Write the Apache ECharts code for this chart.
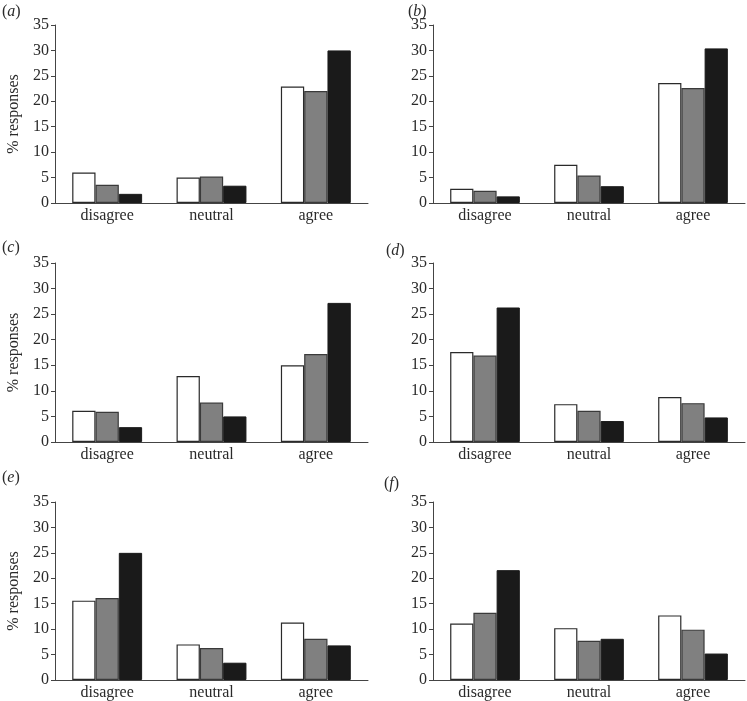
<!DOCTYPE html>
<html>
<head>
<meta charset="utf-8">
<script src="https://cdn.jsdelivr.net/npm/echarts@6/dist/echarts.min.js"></script>
<style>
html,body{margin:0;padding:0;background:#fff;}
#chart{width:747px;height:701px;}
</style>
</head>
<body>
<div id="chart"></div>
<script>
// ---- data ----
const categories = ['disagree', 'neutral', 'agree'];
const panelLetters = ['a', 'b', 'c', 'd', 'e', 'f'];
const yTicks = [0, 5, 10, 15, 20, 25, 30, 35];
const yTitle = '% responses';

const a_white = [6.0, 5.0, 22.9];
const a_gray  = [3.6, 5.2, 22.0];
const a_black = [1.8, 3.4, 30.0];

const b_white = [2.8, 7.5, 23.6];
const b_gray  = [2.4, 5.4, 22.6];
const b_black = [1.3, 3.3, 30.4];

const c_white = [6.1, 12.9, 15.0];
const c_gray  = [5.9, 7.7, 17.2];
const c_black = [2.9, 5.0, 27.2];

const d_white = [17.6, 7.4, 8.8];
const d_gray  = [16.9, 6.1, 7.6];
const d_black = [26.3, 4.1, 4.8];

const e_white = [15.6, 7.0, 11.3];
const e_gray  = [16.1, 6.3, 8.1];
const e_black = [25.0, 3.4, 6.8];

const f_white = [11.1, 10.2, 12.7];
const f_gray  = [13.2, 7.7, 9.9];
const f_black = [21.6, 8.1, 5.2];

const panelData = [
  [a_white, a_gray, a_black],
  [b_white, b_gray, b_black],
  [c_white, c_gray, c_black],
  [d_white, d_gray, d_black],
  [e_white, e_gray, e_black],
  [f_white, f_gray, f_black]
];

// ---- layout ----
const FONT = '"Liberation Serif", "DejaVu Serif", serif';
const TEXT = '#2a2a2a';
const AXIS = '#444';
const gridPos = [
  {left: 55, top: 25, width: 313, height: 178},
  {left: 433, top: 25, width: 312, height: 178},
  {left: 55, top: 263, width: 313, height: 179},
  {left: 433, top: 263, width: 312, height: 179},
  {left: 55, top: 502, width: 313, height: 178},
  {left: 433, top: 502, width: 312, height: 178}
];
const labelPos = [
  {left: 2, top: 4}, {left: 408, top: 4},
  {left: 2, top: 240}, {left: 386, top: 243},
  {left: 2, top: 470}, {left: 384, top: 476}
];
const barStyles = [
  {color: '#ffffff', borderColor: '#2a2a2a', borderWidth: 1.2},
  {color: '#808080', borderColor: '#3a3a3a', borderWidth: 1.2},
  {color: '#1a1a1a', borderColor: '#1a1a1a', borderWidth: 1}
];

const grid = [], xAxis = [], yAxis = [], series = [], title = [];
panelData.forEach((pd, i) => {
  grid.push(Object.assign({containLabel: false}, gridPos[i]));
  xAxis.push({
    type: 'category', gridIndex: i, data: categories,
    axisLine: {lineStyle: {color: AXIS, width: 1}},
    axisTick: {show: false},
    axisLabel: {color: TEXT, fontFamily: FONT, fontSize: 16, margin: 5},
    splitLine: {show: false}
  });
  yAxis.push({
    type: 'value', gridIndex: i, min: 0, max: 35, interval: 5,
    name: (i % 2 === 0) ? yTitle : '',
    nameLocation: 'middle', nameGap: 33,
    nameTextStyle: {color: TEXT, fontFamily: FONT, fontSize: 16},
    axisLine: {show: true, lineStyle: {color: AXIS, width: 1}},
    axisTick: {show: true, length: 4, lineStyle: {color: AXIS}},
    axisLabel: {color: TEXT, fontFamily: FONT, fontSize: 16, margin: 6,
      formatter: v => yTicks.includes(v) ? String(v) : ''},
    splitLine: {show: false}
  });
  pd.forEach((vals, s) => {
    series.push({
      type: 'bar', xAxisIndex: i, yAxisIndex: i, data: vals,
      barGap: '0%', barCategoryGap: '33%',
      itemStyle: barStyles[s],
      silent: true, animation: false
    });
  });
  title.push(Object.assign({
    text: '{p|(}{l|' + panelLetters[i] + '}{p|)}',
    textStyle: {
      fontWeight: 'normal',
      rich: {
        p: {fontFamily: FONT, fontSize: 16, color: TEXT, fontWeight: 'normal'},
        l: {fontFamily: FONT, fontSize: 16, color: TEXT, fontStyle: 'italic', fontWeight: 'normal'}
      }
    },
    padding: 0
  }, labelPos[i]));
});

const chart = echarts.init(document.getElementById('chart'), null, {renderer: 'canvas'});
chart.setOption({
  backgroundColor: '#fff',
  animation: false,
  title, grid, xAxis, yAxis, series
});
</script>
</body>
</html>
